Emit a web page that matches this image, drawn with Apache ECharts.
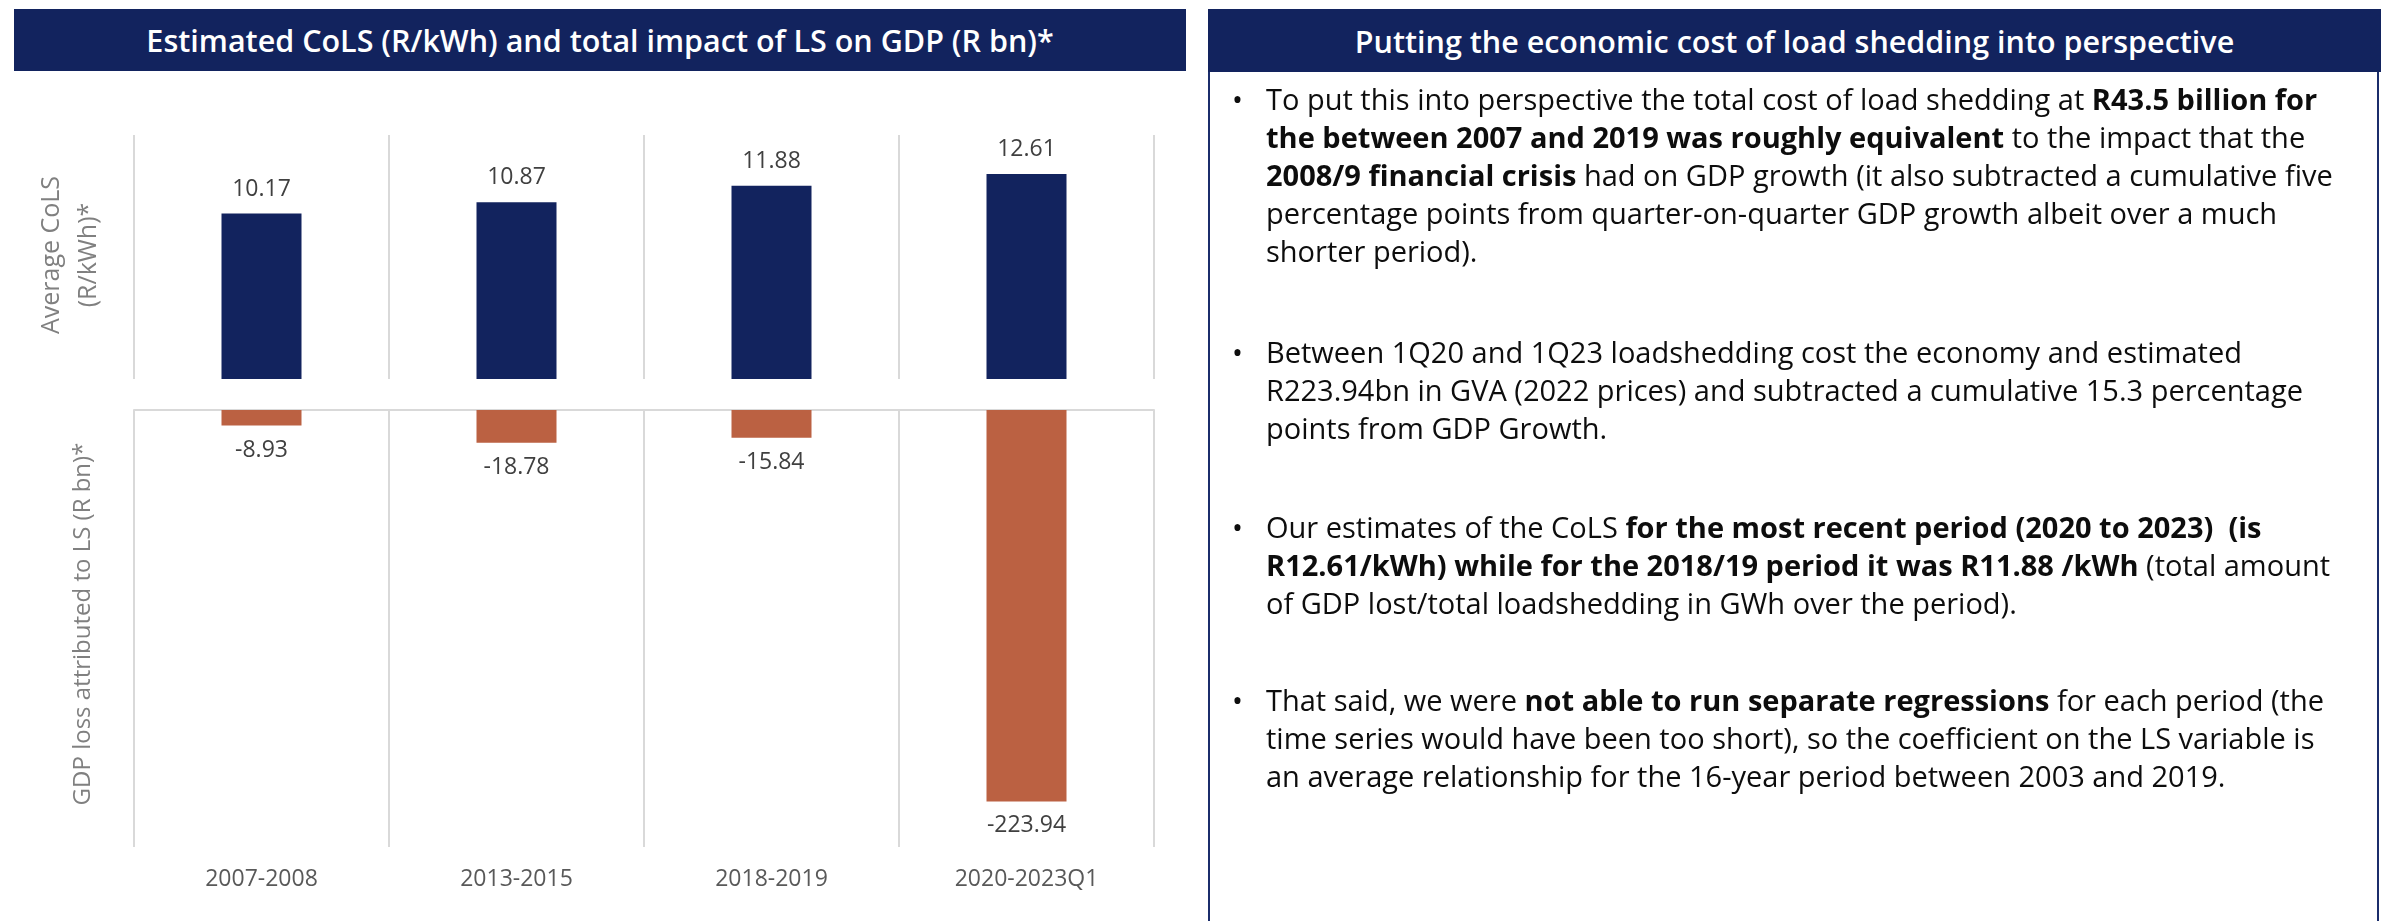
<!DOCTYPE html>
<html>
<head>
<meta charset="utf-8">
<script src="https://cdn.jsdelivr.net/npm/echarts@6/dist/echarts.min.js"></script>
<style>
  html, body { margin: 0; padding: 0; background: #ffffff; }
  #wrap { position: relative; width: 2381px; height: 921px; overflow: hidden; font-family: "Open Sans", "Noto Sans", sans-serif; }
  #chart { position: absolute; left: 0; top: 0; width: 2381px; height: 921px; }
  .hdr { position: absolute; background: #12235E; color: #ffffff; font-weight: 600; font-size: 30.5px;
         display: flex; align-items: center; justify-content: center; white-space: nowrap; }
  #panel { position: absolute; left: 1208px; top: 9px; width: 1171px; height: 940px; border: 2px solid #1B2D6B; box-sizing: border-box; }
  .blk { position: absolute; left: 1266px; font-size: 29px; line-height: 38px; color: #0d0d0d; white-space: pre; }
  .blk::before { content: "\2022"; position: absolute; left: -34px; top: 0; }
  .blk b { font-weight: 700; }
</style>
</head>
<body>
<div id="wrap">
  <div id="chart"></div>
  <div id="panel"></div>
  <div class="hdr" style="left:14px; top:9px; width:1172px; height:62px;">Estimated CoLS (R/kWh) and total impact of LS on GDP (R bn)*</div>
  <div class="hdr" style="left:1208px; top:9px; width:1173px; height:63px;">Putting the economic cost of load shedding into perspective</div>

  <div class="blk" style="top:80px;">To put this into perspective the total cost of load shedding at <b>R43.5 billion for</b>
<b>the between 2007 and 2019 was roughly equivalent</b> to the impact that the
<b>2008/9 financial crisis</b> had on GDP growth (it also subtracted a cumulative five
percentage points from quarter-on-quarter GDP growth albeit over a much
shorter period).</div>

  <div class="blk" style="top:333px;">Between 1Q20 and 1Q23 loadshedding cost the economy and estimated
R223.94bn in GVA (2022 prices) and subtracted a cumulative 15.3 percentage
points from GDP Growth.</div>

  <div class="blk" style="top:508px;">Our estimates of the CoLS <b>for the most recent period (2020 to 2023)  (is</b>
<b>R12.61/kWh) while for the 2018/19 period it was R11.88 /kWh</b> (total amount
of GDP lost/total loadshedding in GWh over the period).</div>

  <div class="blk" style="top:681px;">That said, we were <b>not able to run separate regressions</b> for each period (the
time series would have been too short), so the coefficient on the LS variable is
an average relationship for the 16-year period between 2003 and 2019.</div>
</div>
<script>
// ---- data ----
const categories = ['2007-2008', '2013-2015', '2018-2019', '2020-2023Q1'];
const colsValues = [10.17, 10.87, 11.88, 12.61];          // Average CoLS (R/kWh)
const gdpLossValues = [-8.93, -18.78, -15.84, -223.94];   // GDP loss attributed to LS (R bn)
const colsAxisName = 'Average CoLS\n(R/kWh)*';
const gdpAxisName = 'GDP loss attributed to LS (R bn)*';

const FONT = '"Open Sans", "Noto Sans", sans-serif';
const grid0 = { left: 134, top: 135, width: 1020, height: 244 };
const grid1 = { left: 134, top: 410, width: 1020, height: 437 };
const gridLine = { color: '#D9D9D9', width: 2 };

const chart = echarts.init(document.getElementById('chart'), null, { renderer: 'canvas' });
const fmt = p => Number(p.value).toFixed(2);

chart.setOption({
  backgroundColor: 'transparent',
  animation: false,
  textStyle: { fontFamily: FONT },
  grid: [grid0, grid1],
  xAxis: [
    { gridIndex: 0, type: 'category', data: categories,
      axisLine: { show: false }, axisTick: { show: false }, axisLabel: { show: false },
      splitLine: { show: true, lineStyle: gridLine } },
    { gridIndex: 1, type: 'category', data: categories, position: 'bottom',
      axisLine: { show: false }, axisTick: { show: false },
      axisLabel: { color: '#595959', fontSize: 23, margin: 21, fontFamily: FONT },
      splitLine: { show: true, lineStyle: gridLine } },
    { gridIndex: 1, type: 'category', data: categories, position: 'top',
      axisLine: { show: true, onZero: false, lineStyle: gridLine }, axisTick: { show: false },
      axisLabel: { show: false }, splitLine: { show: false } }
  ],
  yAxis: [
    { gridIndex: 0, type: 'value', min: 0, max: 15, show: false },
    { gridIndex: 1, type: 'value', min: -250, max: 0, show: false }
  ],
  series: [
    { type: 'bar', xAxisIndex: 0, yAxisIndex: 0, data: colsValues, barWidth: 80,
      itemStyle: { color: '#12235E' },
      label: { show: true, position: 'top', distance: 13, color: '#404040', fontSize: 23, fontFamily: FONT, formatter: fmt } },
    { type: 'bar', xAxisIndex: 1, yAxisIndex: 1, data: gdpLossValues, barWidth: 80,
      itemStyle: { color: '#BB6142' },
      label: { show: true, position: 'bottom', distance: 13, color: '#404040', fontSize: 23, fontFamily: FONT, formatter: fmt } }
  ],
  graphic: [
    { type: 'text', x: 70, y: 255, rotation: Math.PI / 2,
      style: { text: colsAxisName, fill: '#808080', font: '25px ' + FONT, align: 'center', verticalAlign: 'middle', lineHeight: 37 } },
    { type: 'text', x: 83, y: 624, rotation: Math.PI / 2,
      style: { text: gdpAxisName, fill: '#808080', font: '24px ' + FONT, align: 'center', verticalAlign: 'middle' } }
  ]
});
</script>
</body>
</html>
